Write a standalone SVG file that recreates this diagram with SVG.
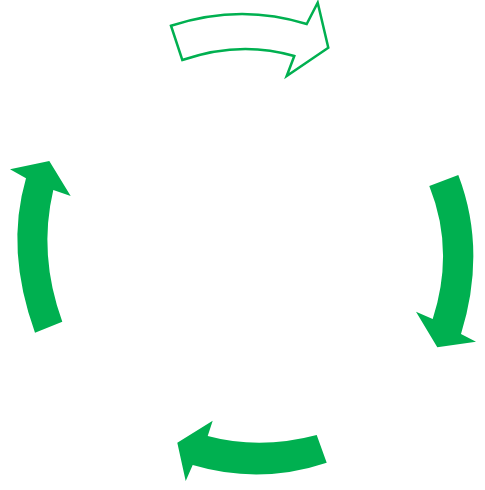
<svg xmlns="http://www.w3.org/2000/svg" width="485" height="490" viewBox="0 0 485 490">
<style>
.solid{fill:#00B050;stroke:none}
.outline{fill:#FFFFFF;stroke:#00B050;stroke-width:2.5;stroke-linejoin:miter}
</style>
<rect width="485" height="490" fill="#FFFFFF"/>
<g id="connectors">
<g id="arrow-top"><path class="outline" d="M171,25.7 Q240,3 306.7,24 L317.7,2.7 L328.3,47.7 L286.7,76 L294.3,56 Q240,40 182.3,60 Z"/></g>
<g id="arrow-right"><path class="solid" d="M429.3,186 L458.3,175 Q487,250 461,334 L476,341.7 L437.3,347.3 L416,311.7 L432.7,319 Q455,250 429.3,186 Z"/></g>
<g id="arrow-bottom"><path class="solid" d="M316.7,435 L326.7,462.7 Q260,485 192.7,465 L185.7,481 L177.3,442.7 L212.7,420.7 L207.7,436 Q260,450 316.7,435 Z"/></g>
<g id="arrow-left"><path class="solid" d="M35,332.7 Q5,250 26,178.3 L10,169.3 L49.3,161 L70.7,196 L53.3,190 Q38,255 62.3,321.7 Z"/></g>
</g>
</svg>
